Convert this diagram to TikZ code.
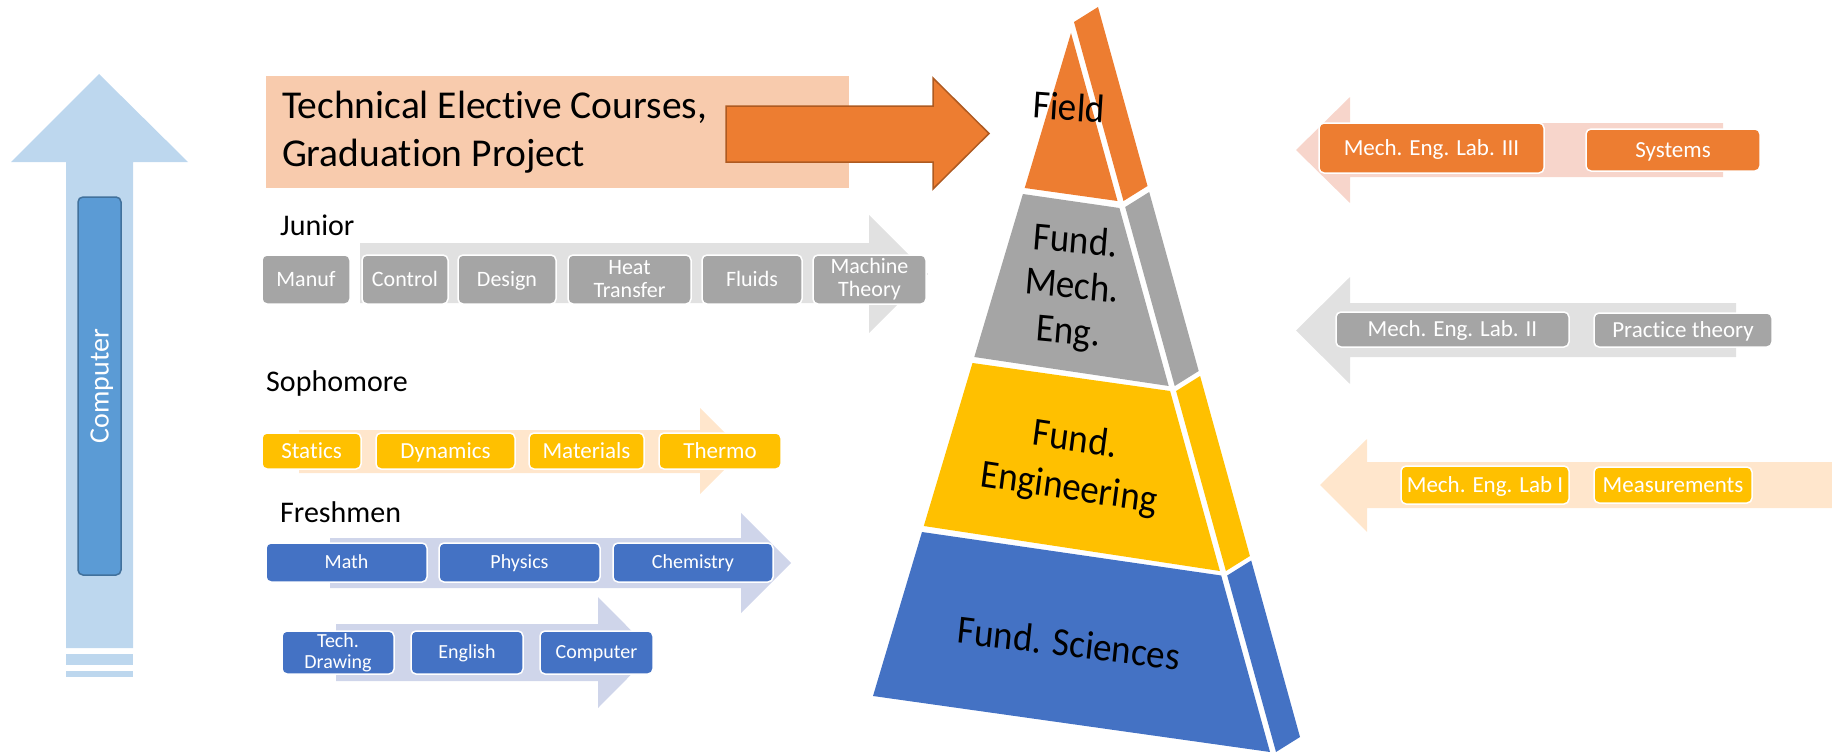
\documentclass[tikz,border=0pt]{standalone}
\usepackage{fontspec}
\setmainfont{Carlito}[Ligatures=NoCommon]
\usetikzlibrary{calc}
\definecolor{cOrange}{HTML}{ED7D31}
\definecolor{cOrangeDk}{HTML}{AE5A21}
\definecolor{cGray}{HTML}{A5A5A5}
\definecolor{cYellow}{HTML}{FFC000}
\definecolor{cBlue}{HTML}{4472C4}
\definecolor{cSky}{HTML}{BDD7EE}
\definecolor{cMid}{HTML}{5B9BD5}
\definecolor{cMidDk}{HTML}{41719C}
\definecolor{cPeach}{HTML}{F8CBAD}
\definecolor{cArrGray}{HTML}{E1E1E1}
\definecolor{cArrCream}{HTML}{FFE6CC}
\definecolor{cArrLav}{HTML}{CFD5EA}
\definecolor{cArrPink}{HTML}{F7D5CB}
\newcommand\fsz[2]{\fontsize{#1}{#2}\selectfont}
\begin{document}
\begin{tikzpicture}[x=1pt,y=-1pt,
  box/.style={rectangle, rounded corners=5pt, draw=white, line width=1.5pt, text=white, inner sep=0pt, align=center},
  one/.style={text height=#1, text depth=0pt},
  lvl/.style={inner sep=0pt, align=center, text=black, font=\fsz{37}{40}, yscale=1.08},
  yearlbl/.style={inner sep=0pt, anchor=base west, font=\fsz{30}{36}}]
\useasboundingbox (0,0) rectangle (1832,752);

% ---------- left vertical arrow ----------
\fill[cSky] (99,74) -- (188,162) -- (133,162) -- (133,648) -- (66,648) -- (66,162) -- (11,162) -- cycle;
\fill[cSky] (66,654) rectangle (133,665);
\fill[cSky] (66,671) rectangle (133,677);
\node[rectangle, rounded corners=5pt, fill=cMid, draw=cMidDk, line width=1.5pt, minimum width=378pt, minimum height=43pt, inner sep=0pt, rotate=90, text=white, font=\fsz{28}{32}, text height=18pt, text depth=0pt] (comp) at (99.5,386) {Computer};

% ---------- top elective block ----------
\node[rectangle, fill=cPeach, minimum width=583pt, minimum height=112pt, text width=551pt, inner xsep=16pt, inner ysep=0pt, align=flush left, font=\fsz{39.5}{48}] (elective) at (557.5,132) {Technical Elective Courses,\\Graduation Project};
\filldraw[fill=cOrange, draw=cOrangeDk, line width=1.5pt] (726,106) -- (933,106) -- (933,78) -- (989,133.5) -- (933,189) -- (933,162) -- (726,162) -- cycle;

% ---------- Junior ----------
\node[yearlbl] (junior) at (280,235) {Junior};
\fill[cArrGray] (360,243) -- (869,243) -- (869,215) -- (928,274) -- (869,333) -- (869,303) -- (360,303) -- cycle;
\begin{scope}[every node/.style={box, fill=cGray, minimum height=49pt, font=\fsz{22}{23}}]
\node[one=14pt, minimum width=88pt] (manuf) at (306,279.5) {Manuf};
\node[one=14pt, minimum width=86pt] (control) at (405,279.5) {Control};
\node[one=14pt, minimum width=98pt] (design) at (507,279.5) {Design};
\node[minimum width=123pt] (heat) at (629.5,279.5) {Heat\\Transfer};
\node[one=14pt, minimum width=100pt] (fluids) at (752,279.5) {Fluids};
\node[minimum width=113pt] (machine) at (869.5,279.5) {Machine\\Theory};
\end{scope}

% ---------- Sophomore ----------
\node[yearlbl] (sopho) at (266,391) {Sophomore};
\fill[cArrCream] (299,430) -- (700,430) -- (700,408) -- (743,451) -- (700,494) -- (700,473) -- (299,473) -- cycle;
\begin{scope}[every node/.style={box, fill=cYellow, minimum height=36pt, font=\fsz{23}{24}, one=14.8pt}]
\node[minimum width=99pt] (statics) at (311.5,451) {Statics};
\node[minimum width=139pt] (dynamics) at (445.5,451) {Dynamics};
\node[minimum width=115pt] (materials) at (586.5,451) {Materials};
\node[minimum width=122pt] (thermo) at (720,451) {Thermo};
\end{scope}

% ---------- Freshmen ----------
\node[yearlbl] (fresh) at (280,522) {Freshmen};
\fill[cArrLav] (330,538) -- (741,538) -- (741,513) -- (791,563) -- (741,613) -- (741,588) -- (330,588) -- cycle;
\fill[cArrLav] (336,624) -- (598,624) -- (598,597) -- (653,652.5) -- (598,708) -- (598,681) -- (336,681) -- cycle;
\begin{scope}[every node/.style={box, fill=cBlue, font=\fsz{20}{21}}]
\node[one=12.8pt, minimum width=161pt, minimum height=39pt] (math) at (346.5,562.5) {Math};
\node[one=12.8pt, minimum width=161pt, minimum height=39pt] (physics) at (519.5,562.5) {Physics};
\node[one=12.8pt, minimum width=160pt, minimum height=39pt] (chem) at (693,562.5) {Chemistry};
\node[minimum width=112pt, minimum height=43pt] (techdraw) at (338,652.5) {Tech.\\Drawing};
\node[one=12.8pt, minimum width=112pt, minimum height=43pt] (english) at (467,652.5) {English};
\node[one=12.8pt, minimum width=113pt, minimum height=43pt] (computer) at (596.5,652.5) {Computer};
\end{scope}

% ---------- Pyramid ----------
\fill[cOrange] (1071,33) -- (1117.5,201) -- (1024.7,188) -- cycle;
\fill[cOrange] (1074,22) -- (1098,7) -- (1147.5,186) -- (1123.5,201) -- cycle;
\fill[cGray] (1022.9,194) -- (1119.4,208) -- (1168.7,386) -- (974.3,357) -- cycle;
\fill[cGray] (1125.2,207) -- (1149.2,192) -- (1198.7,371) -- (1174.7,386) -- cycle;
\fill[cYellow] (972.5,363) -- (1170.1,391) -- (1219.9,571) -- (923.8,526) -- cycle;
\fill[cYellow] (1176.1,391) -- (1200.1,376) -- (1249.9,556) -- (1225.9,571) -- cycle;
\fill[cBlue] (922,532) -- (1221.2,575.5) -- (1270,752) -- (873,696) -- cycle;
\fill[cBlue] (1227.2,575.5) -- (1251.2,560.5) -- (1300,737) -- (1276,752) -- cycle;
\node[lvl, rotate=-4] (field) at (1069,107) {Field};
\node[lvl, rotate=-5, font=\fsz{37}{42}] (fme) at (1072,288) {Fund.\\Mech.\\Eng.};
\node[lvl, rotate=-8, font=\fsz{37}{45}] (feng) at (1072,465) {Fund.\\Engineering};
\node[lvl, rotate=-6.5] (fsci) at (1069,643) {Fund. Sciences};

% ---------- Right side ----------
\fill[cArrPink] (1296,150) -- (1350,97) -- (1350,123) -- (1723,123) -- (1723,177) -- (1350,177) -- (1350,203) -- cycle;
\fill[cArrGray] (1296,330.5) -- (1350,277) -- (1350,303) -- (1736,303) -- (1736,357) -- (1350,357) -- (1350,384) -- cycle;
\fill[cArrCream] (1320,485) -- (1367,439) -- (1367,462) -- (1832,462) -- (1832,508) -- (1367,508) -- (1367,532) -- cycle;
\begin{scope}[every node/.style={box, font=\fsz{23}{24}, one=14.8pt}]
\node[fill=cOrange, minimum width=225pt, minimum height=50pt] (lab3) at (1431.5,148) {Mech. Eng. Lab. III};
\node[fill=cOrange, minimum width=174pt, minimum height=42pt] (systems) at (1673,150) {Systems};
\node[fill=cGray, minimum width=233pt, minimum height=35pt] (lab2) at (1452.5,329.5) {Mech. Eng. Lab. II};
\node[fill=cGray, minimum width=178pt, minimum height=34pt] (practice) at (1683,330) {Practice theory};
\node[fill=cYellow, minimum width=168pt, minimum height=38pt] (lab1) at (1485,485) {Mech. Eng. Lab I};
\node[fill=cYellow, minimum width=158pt, minimum height=36pt] (meas) at (1673,485) {Measurements};
\end{scope}
\end{tikzpicture}
\end{document}
